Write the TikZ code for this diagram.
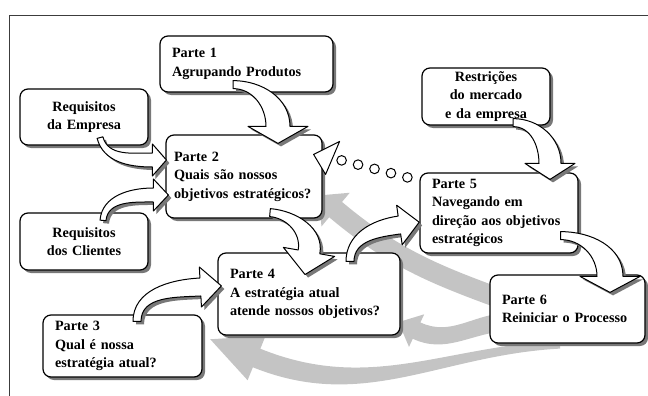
\documentclass[tikz,border=0pt]{standalone}
\usepackage{fontspec}
\setmainfont{Liberation Serif}
\usetikzlibrary{calc,shadows,backgrounds}
\definecolor{shadowgray}{RGB}{120,120,120}
\definecolor{backgray}{RGB}{196,196,196}
\definecolor{framegray}{RGB}{60,60,60}
\tikzset{
    basebox/.style={rectangle, rounded corners=8pt,
        draw=black, line width=1.2pt, fill=white,
        font=\fontsize{14.2}{18.5}\selectfont\bfseries,
        inner xsep=12pt, inner ysep=2pt,
        drop shadow={shadow xshift=3pt, shadow yshift=-3pt, fill=shadowgray, opacity=1}},
    partbox/.style={basebox, align=left},
    reqbox/.style={basebox, align=center},
    flowarr/.style={draw=black, line width=1pt, fill=white, line join=round,
        drop shadow={shadow xshift=3pt, shadow yshift=-3pt, fill=shadowgray, opacity=1}},
    backarr/.style={fill=backgray},
    dotcirc/.style={draw=black, line width=1pt, fill=white}
}
% bent block arrow: style, tail, tail dir, tail half width,
% head base, head dir, band half width, head half width, head length
\newcommand{\bendarrow}[9]{%
  \path[#1] ($(#2)+({#3+90}:#4)$) to[out=#3, in=#6+180] ($(#5)+({#6+90}:#7)$)
    -- ($(#5)+({#6+90}:#8)$) -- ($(#5)+(#6:#9)$) -- ($(#5)+({#6-90}:#8)$)
    -- ($(#5)+({#6-90}:#7)$) to[out=#6+180, in=#3] ($(#2)+({#3-90}:#4)$) -- cycle;
}

\begin{document}
\begin{tikzpicture}[x=1pt, y=1pt]
\useasboundingbox (0,0) rectangle (648,-396);

% frame
\draw[framegray, line width=0.9pt] (9,-396) -- (9,-15) -- (648,-15);

% boxes
\node[partbox, text width=149pt, minimum height=56pt] (p1) at (246.5,-64) {Parte 1\\Agrupando Produtos};
\node[reqbox, text width=104pt, minimum height=56pt] (re) at (84,-117) {Requisitos\\da Empresa};
\node[partbox, text width=140pt, inner xsep=8pt, minimum height=83pt] (p2) at (244,-176.5) {Parte 2\\Quais são nossos\\objetivos estratégicos?};
\node[reqbox, text width=104pt, minimum height=57pt] (rc) at (84,-241.5) {Requisitos\\dos Clientes};
\node[partbox, text width=158pt, minimum height=82pt] (p4) at (309,-294) {Parte 4\\A estratégia atual\\atende nossos objetivos?};
\node[partbox, text width=135pt, minimum height=62pt] (p3) at (122.5,-346) {Parte 3\\Qual é nossa\\estratégia atual?};
\node[reqbox, text width=104pt, minimum height=57pt] (rm) at (486,-96.5) {Restrições\\do mercado\\e da empresa};
\node[partbox, text width=134pt, minimum height=80pt] (p5) at (499,-213) {Parte 5\\Navegando em\\direção aos objetivos\\estratégicos};
\node[partbox, text width=131pt, minimum height=68pt] (p6) at (567.5,-309) {Parte 6\\Reiniciar o Processo};

% connector ends
\coordinate (a1t) at ($(p1.south)+(-13.5,8)$);
\coordinate (a1h) at ($(p2.north)+(34,8)$);
\coordinate (a2t) at ($(re.south)+(16,8)$);
\coordinate (a2h) at ($(p2.west)+(-13,16.5)$);
\coordinate (a3t) at ($(rc.north)+(19,-8)$);
\coordinate (a3h) at ($(p2.west)+(-12,-18.5)$);
\coordinate (a4t) at ($(p2.south)+(26,6)$);
\coordinate (a4h) at ($(p4.north)+(0,0.5)$);
\coordinate (a5t) at ($(p4.north)+(41,-9)$);
\coordinate (a5h) at ($(p5.west)+(-20,-12)$);
\coordinate (a6t) at ($(p3.north)+(14.5,-7)$);
\coordinate (a6h) at ($(p4.west)+(-17,7)$);
\coordinate (a7t) at ($(rm.south)+(27,3)$);
\coordinate (a7h) at ($(p5.north)+(51,9)$);
\coordinate (a8t) at ($(p5.south east)+(-18,18)$);
\coordinate (a8h) at ($(p6.north)+(42.5,-2)$);
\coordinate (g1t) at ($(p6.west)+(15,9)$);
\coordinate (g1h) at ($(p2.south east)+(13,9)$);
\coordinate (g2t) at ($(p6.west)+(15,-13)$);
\coordinate (g2h) at ($(p4.south east)+(16,5)$);
\coordinate (g3t) at ($(p6.south)+(-7.5,-1)$);
\coordinate (g3h) at ($(p3.east)+(54,-12)$);
\coordinate (dotA) at ($(p5.north west)+(-12,-5)$);
\coordinate (dotB) at ($(p2.north east)+(19,-26)$);

% return arrows
\begin{scope}[on background layer]
\bendarrow{backarr}{g1t}{160}{10}{g1h}{140}{10}{22}{22}
\bendarrow{backarr}{g2t}{185}{9}{g2h}{155}{9}{18}{20}
\bendarrow{backarr}{g3t}{183}{4}{g3h}{158}{10}{24}{50}
\end{scope}

% flow arrows
\bendarrow{flowarr}{a1t}{0}{4}{a1h}{-90}{12}{30}{17}
\bendarrow{flowarr}{a2t}{-75}{3}{a2h}{0}{7}{16}{14}
\bendarrow{flowarr}{a3t}{85}{3}{a3h}{0}{7}{16}{15}
\bendarrow{flowarr}{a4t}{-5}{4}{a4h}{-100}{11}{26}{23}
\bendarrow{flowarr}{a5t}{90}{4}{a5h}{8}{9}{20}{20}
\bendarrow{flowarr}{a6t}{90}{4}{a6h}{3}{9}{20}{21}
\bendarrow{flowarr}{a7t}{0}{4}{a7h}{-90}{11}{25}{16}
\bendarrow{flowarr}{a8t}{0}{4}{a8h}{-90}{13}{30}{16}

% dotted link back to Parte 2
\foreach \i in {0,...,4}
  \draw[dotcirc] ($(dotA)!\i/4!(dotB)$) circle (4.8);
\draw[dotcirc, line join=round] ($(dotB)+(-28,6)$) -- ($(dotB)+(-2,19)$) -- ($(dotB)+(-16,-14)$) -- cycle;

\end{tikzpicture}
\end{document}
